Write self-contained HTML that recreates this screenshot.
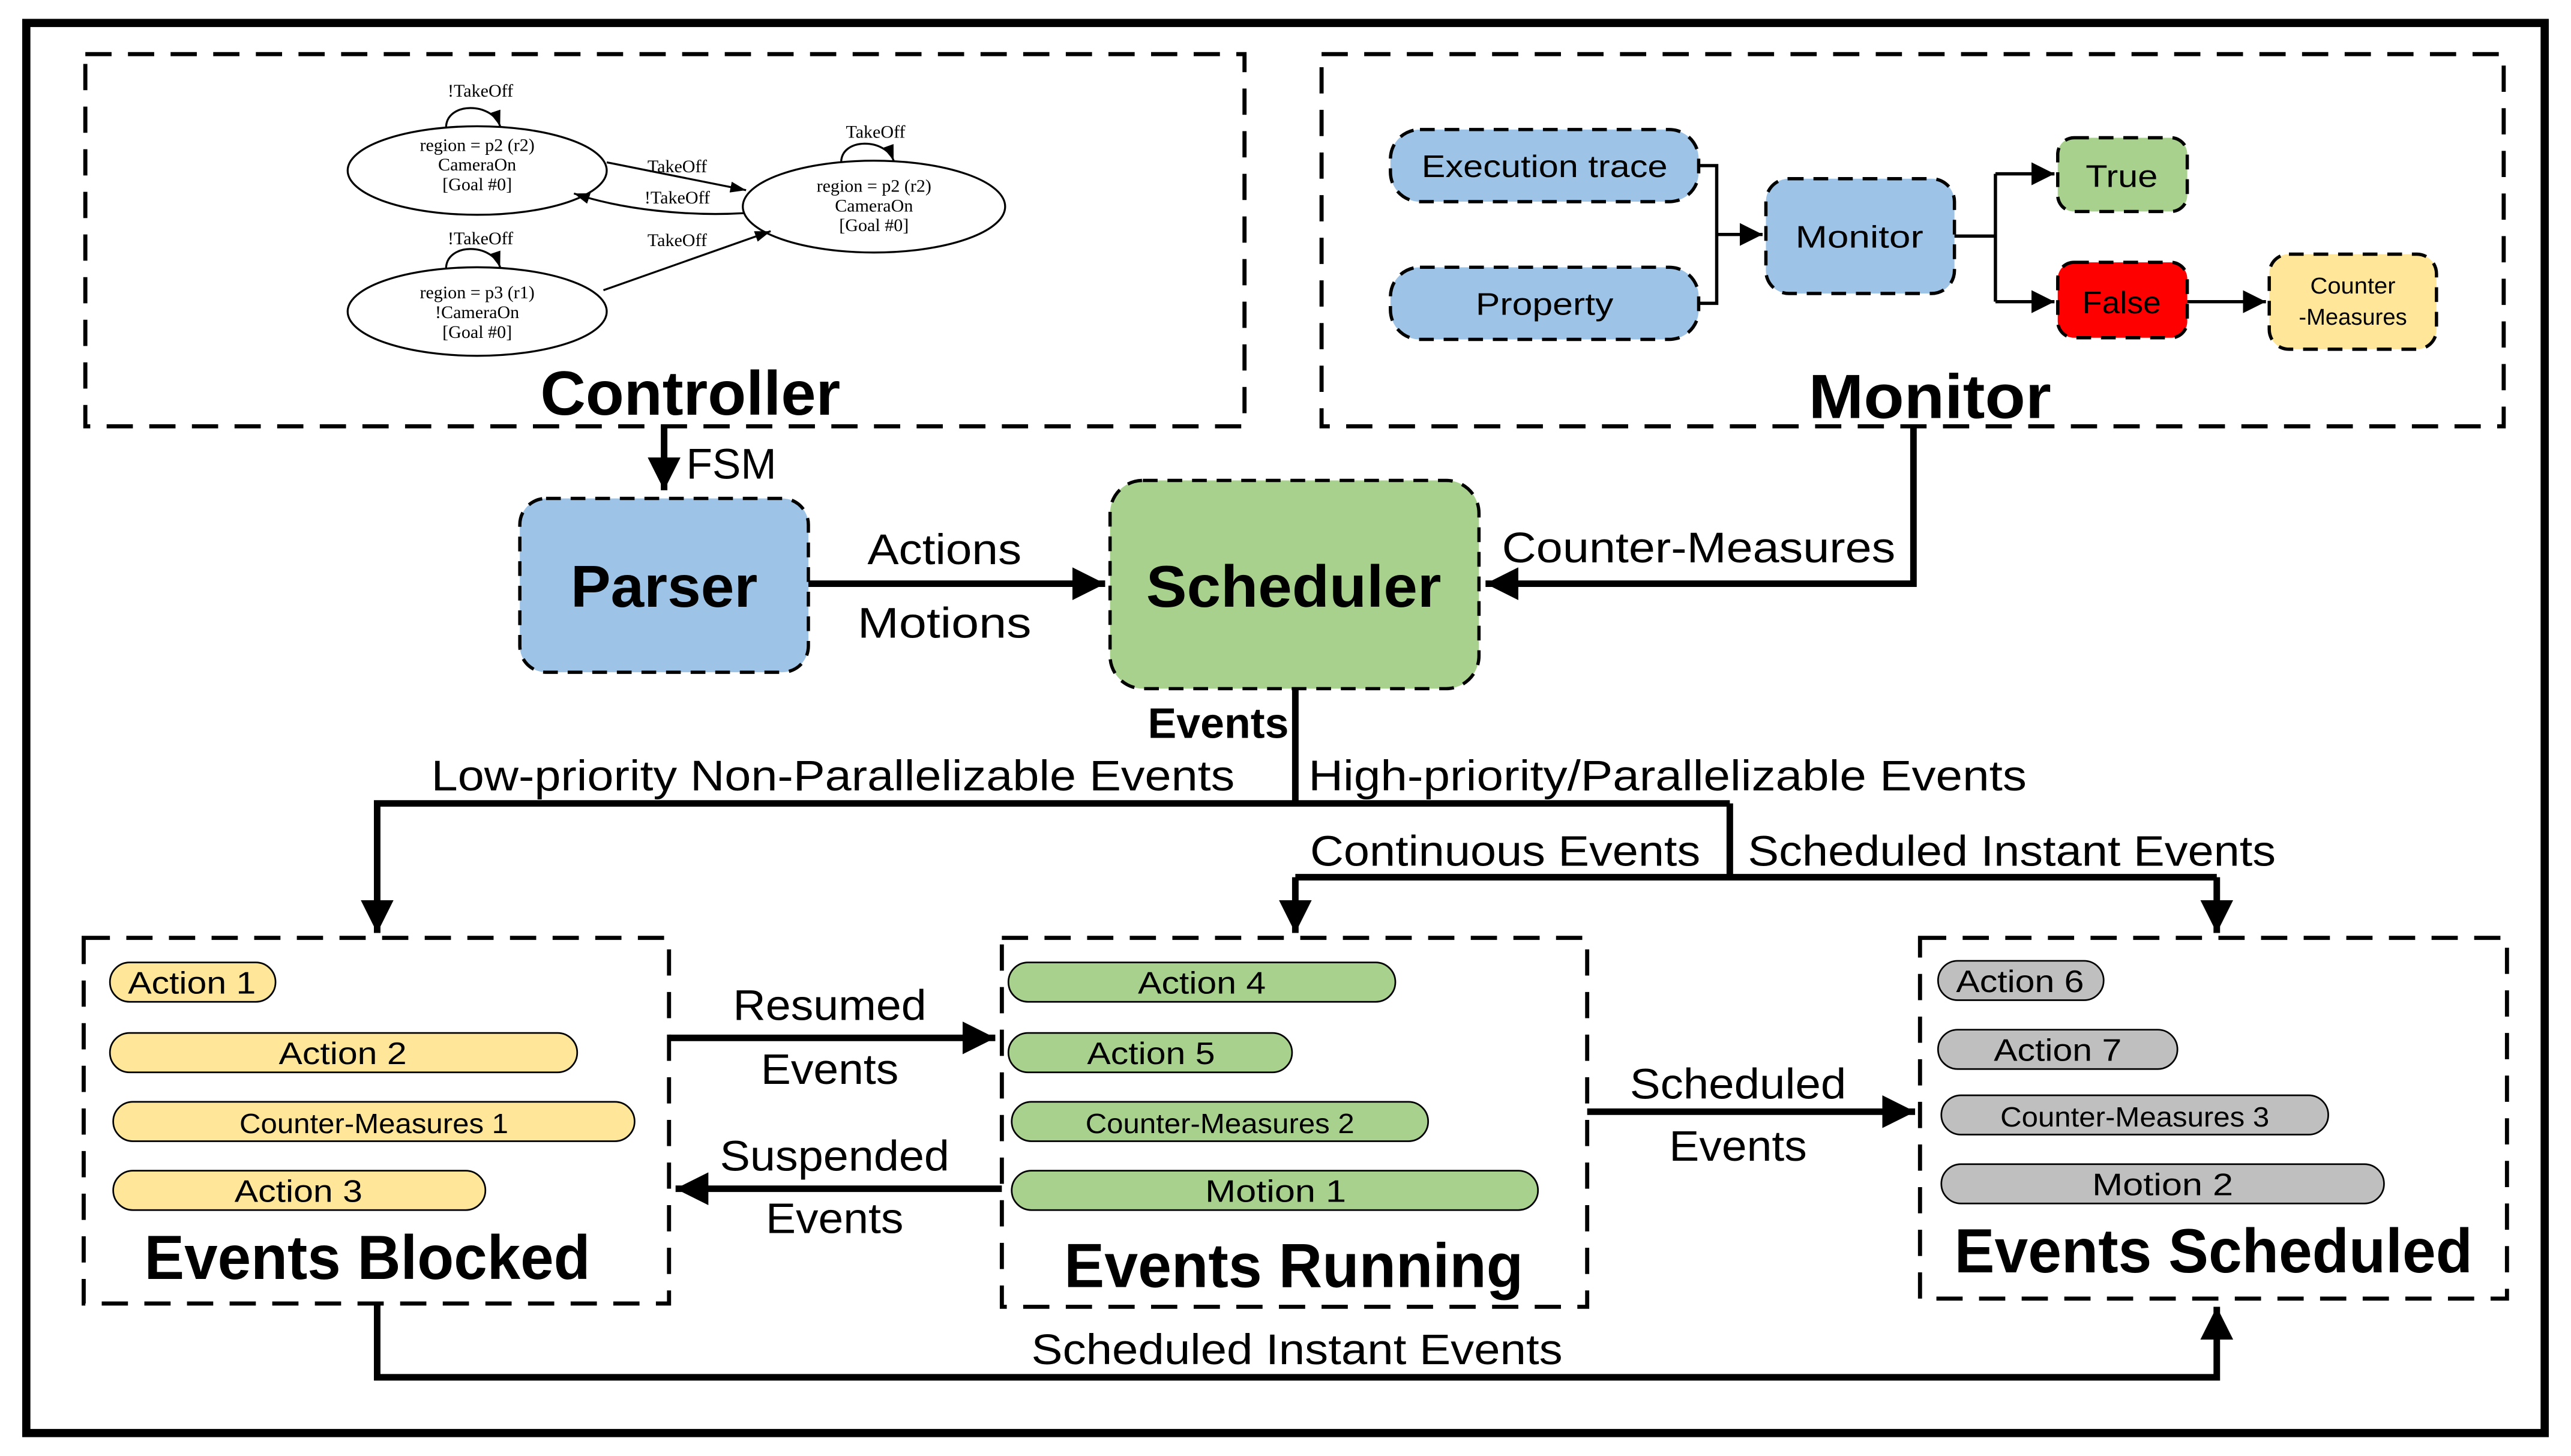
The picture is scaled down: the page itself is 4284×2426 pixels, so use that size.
<!DOCTYPE html>
<html><head><meta charset="utf-8"><style>html,body{margin:0;padding:0;background:#fff}svg{display:block}</style></head>
<body>
<svg width="4284" height="2426" viewBox="0 0 1568 888" xmlns="http://www.w3.org/2000/svg" font-family="Liberation Sans, sans-serif">
<defs>
<marker id="a" viewBox="0 0 10 10" refX="10" refY="5" markerWidth="5" markerHeight="5" orient="auto" markerUnits="strokeWidth"><path d="M0,0L10,5L0,10z" fill="#000"/></marker>
<marker id="s" viewBox="0 0 10 10" refX="10" refY="5" markerWidth="7" markerHeight="7" orient="auto" markerUnits="strokeWidth"><path d="M0,0L10,5L0,10z" fill="#000"/></marker>
<marker id="t" viewBox="0 0 10 10" refX="10" refY="5" markerWidth="8" markerHeight="8" orient="auto" markerUnits="strokeWidth"><path d="M0,1.5L10,5L0,8.5z" fill="#000"/></marker>
</defs>
<rect x="16" y="14" width="1536" height="860" fill="#fff" stroke="#000" stroke-width="5"/>
<g fill="none" stroke="#000" stroke-width="2.5" stroke-dasharray="16,10">
<rect x="52" y="33" width="707" height="227"/>
<rect x="806" y="33" width="721" height="227"/>
<rect x="51" y="572" width="357" height="223"/>
<rect x="611" y="572" width="357" height="225"/>
<rect x="1171" y="572" width="358" height="220"/>
</g>
<!-- FSM -->
<g fill="none" stroke="#000" stroke-width="1.2">
<ellipse cx="291" cy="104" rx="79" ry="27"/>
<ellipse cx="533" cy="126" rx="80" ry="28"/>
<ellipse cx="291" cy="190" rx="79" ry="27"/>
<path d="M272,78 C272,62 300,62 305,77" marker-end="url(#t)"/>
<path d="M513,99 C513,84 540,84 545,98" marker-end="url(#t)"/>
<path d="M272,164 C272,148 300,148 305,163" marker-end="url(#t)"/>
<path d="M370,99 L455,116" marker-end="url(#t)"/>
<path d="M454,130 C420,132 380,128 350,118" marker-end="url(#t)"/>
<path d="M368,177 L470,141" marker-end="url(#t)"/>
</g>
<g font-family="Liberation Serif, serif" font-size="11" text-anchor="middle" fill="#000">
<text x="293" y="59">!TakeOff</text>
<text x="534" y="84">TakeOff</text>
<text x="293" y="149">!TakeOff</text>
<text x="413" y="105">TakeOff</text>
<text x="413" y="124">!TakeOff</text>
<text x="413" y="150">TakeOff</text>
<text x="291" y="92">region = p2 (r2)</text><text x="291" y="104">CameraOn</text><text x="291" y="116">[Goal #0]</text>
<text x="533" y="117">region = p2 (r2)</text><text x="533" y="129">CameraOn</text><text x="533" y="141">[Goal #0]</text>
<text x="291" y="182">region = p3 (r1)</text><text x="291" y="194">!CameraOn</text><text x="291" y="206">[Goal #0]</text>
</g>
<!-- Monitor panel -->
<g stroke="#000" stroke-width="2" stroke-dasharray="9,6">
<rect x="848" y="79" width="188" height="44" rx="18" fill="#9dc3e6"/>
<rect x="848" y="163" width="188" height="44" rx="18" fill="#9dc3e6"/>
<rect x="1077" y="109" width="115" height="70" rx="14" fill="#9dc3e6"/>
<rect x="1255" y="84" width="79" height="45" rx="10" fill="#a9d18e"/>
<rect x="1255" y="160" width="79" height="46" rx="10" fill="#ff0000"/>
<rect x="1384" y="155" width="102" height="58" rx="12" fill="#ffe699"/>
</g>
<g fill="none" stroke="#000" stroke-width="2">
<path d="M1036,101H1047V185H1036"/>
<path d="M1047,143H1075" marker-end="url(#s)"/>
<path d="M1192,144H1217"/>
<path d="M1217,106V184"/>
<path d="M1217,106H1253" marker-end="url(#s)"/>
<path d="M1217,184H1253" marker-end="url(#s)"/>
<path d="M1334,184H1382" marker-end="url(#s)"/>
</g>
<g font-size="19" text-anchor="middle" fill="#000">
<text x="942" y="108" textLength="150" lengthAdjust="spacingAndGlyphs">Execution trace</text>
<text x="942" y="192" textLength="84" lengthAdjust="spacingAndGlyphs">Property</text>
<text x="1134" y="151" textLength="78" lengthAdjust="spacingAndGlyphs">Monitor</text>
<text x="1294" y="114" textLength="44" lengthAdjust="spacingAndGlyphs">True</text>
<text x="1294" y="191" textLength="48" lengthAdjust="spacingAndGlyphs">False</text>
<text x="1435" y="179" font-size="14" textLength="52" lengthAdjust="spacingAndGlyphs">Counter</text>
<text x="1435" y="198" font-size="14" textLength="66" lengthAdjust="spacingAndGlyphs">-Measures</text>
</g>
<g font-weight="bold" font-size="38" text-anchor="middle" fill="#000">
<text x="421" y="253" textLength="183" lengthAdjust="spacingAndGlyphs">Controller</text>
<text x="1177" y="255" textLength="148" lengthAdjust="spacingAndGlyphs">Monitor</text>
</g>
<!-- Parser / Scheduler -->
<rect x="317" y="304" width="176" height="106" rx="16" fill="#9dc3e6" stroke="#000" stroke-width="2" stroke-dasharray="9,6"/>
<rect x="677" y="293" width="225" height="127" rx="20" fill="#a9d18e" stroke="#000" stroke-width="2" stroke-dasharray="9,6"/>
<text x="405" y="370" font-size="36" font-weight="bold" text-anchor="middle" textLength="114" lengthAdjust="spacingAndGlyphs">Parser</text>
<text x="789" y="370" font-size="36" font-weight="bold" text-anchor="middle" textLength="180" lengthAdjust="spacingAndGlyphs">Scheduler</text>
<g fill="none" stroke="#000" stroke-width="4">
<path d="M405,260V299" marker-end="url(#a)"/>
<path d="M493,356H674" marker-end="url(#a)"/>
<path d="M1167,260V356H906" marker-end="url(#a)"/>
<path d="M790,420V490"/>
<path d="M1055,490H230V569" marker-end="url(#a)"/>
<path d="M1055,490V535"/>
<path d="M790,535H1352"/>
<path d="M790,535V569" marker-end="url(#a)"/>
<path d="M1352,535V569" marker-end="url(#a)"/>
<path d="M408,633H607" marker-end="url(#a)"/>
<path d="M611,725H412" marker-end="url(#a)"/>
<path d="M968,678H1168" marker-end="url(#a)"/>
<path d="M230,795V840H1352V797" marker-end="url(#a)"/>
</g>
<g font-size="26" text-anchor="middle" fill="#000">
<text x="446" y="292" textLength="55" lengthAdjust="spacingAndGlyphs">FSM</text>
<text x="576" y="344" textLength="94" lengthAdjust="spacingAndGlyphs">Actions</text>
<text x="576" y="389" textLength="106" lengthAdjust="spacingAndGlyphs">Motions</text>
<text x="1036" y="343" textLength="240" lengthAdjust="spacingAndGlyphs">Counter-Measures</text>
<text x="743" y="450" font-weight="bold" textLength="86" lengthAdjust="spacingAndGlyphs">Events</text>
<text x="508" y="482" textLength="490" lengthAdjust="spacingAndGlyphs">Low-priority Non-Parallelizable Events</text>
<text x="1017" y="482" textLength="438" lengthAdjust="spacingAndGlyphs">High-priority/Parallelizable Events</text>
<text x="918" y="528" textLength="238" lengthAdjust="spacingAndGlyphs">Continuous Events</text>
<text x="1227" y="528" textLength="322" lengthAdjust="spacingAndGlyphs">Scheduled Instant Events</text>
<text x="506" y="622" textLength="118" lengthAdjust="spacingAndGlyphs">Resumed</text>
<text x="506" y="661" textLength="84" lengthAdjust="spacingAndGlyphs">Events</text>
<text x="509" y="714" textLength="140" lengthAdjust="spacingAndGlyphs">Suspended</text>
<text x="509" y="752" textLength="84" lengthAdjust="spacingAndGlyphs">Events</text>
<text x="1060" y="670" textLength="132" lengthAdjust="spacingAndGlyphs">Scheduled</text>
<text x="1060" y="708" textLength="84" lengthAdjust="spacingAndGlyphs">Events</text>
<text x="791" y="832" textLength="324" lengthAdjust="spacingAndGlyphs">Scheduled Instant Events</text>
</g>
<!-- pills -->
<g stroke="#000" stroke-width="1">
<rect x="67" y="587" width="101" height="24" rx="12" fill="#ffe699"/>
<rect x="67" y="630" width="285" height="24" rx="12" fill="#ffe699"/>
<rect x="69" y="672" width="318" height="24" rx="12" fill="#ffe699"/>
<rect x="69" y="714" width="227" height="24" rx="12" fill="#ffe699"/>
<rect x="615" y="587" width="236" height="24" rx="12" fill="#a9d18e"/>
<rect x="615" y="630" width="173" height="24" rx="12" fill="#a9d18e"/>
<rect x="617" y="672" width="254" height="24" rx="12" fill="#a9d18e"/>
<rect x="617" y="714" width="321" height="24" rx="12" fill="#a9d18e"/>
<rect x="1182" y="586" width="101" height="24" rx="12" fill="#bfbfbf"/>
<rect x="1182" y="628" width="146" height="24" rx="12" fill="#bfbfbf"/>
<rect x="1184" y="668" width="236" height="24" rx="12" fill="#bfbfbf"/>
<rect x="1184" y="710" width="270" height="24" rx="12" fill="#bfbfbf"/>
</g>
<g font-size="19" text-anchor="middle" fill="#000">
<text x="117" y="606" textLength="78" lengthAdjust="spacingAndGlyphs">Action 1</text>
<text x="209" y="649" textLength="78" lengthAdjust="spacingAndGlyphs">Action 2</text>
<text x="228" y="691" font-size="17" textLength="164" lengthAdjust="spacingAndGlyphs">Counter-Measures 1</text>
<text x="182" y="733" textLength="78" lengthAdjust="spacingAndGlyphs">Action 3</text>
<text x="733" y="606" textLength="78" lengthAdjust="spacingAndGlyphs">Action 4</text>
<text x="702" y="649" textLength="78" lengthAdjust="spacingAndGlyphs">Action 5</text>
<text x="744" y="691" font-size="17" textLength="164" lengthAdjust="spacingAndGlyphs">Counter-Measures 2</text>
<text x="778" y="733" textLength="86" lengthAdjust="spacingAndGlyphs">Motion 1</text>
<text x="1232" y="605" textLength="78" lengthAdjust="spacingAndGlyphs">Action 6</text>
<text x="1255" y="647" textLength="78" lengthAdjust="spacingAndGlyphs">Action 7</text>
<text x="1302" y="687" font-size="17" textLength="164" lengthAdjust="spacingAndGlyphs">Counter-Measures 3</text>
<text x="1319" y="729" textLength="86" lengthAdjust="spacingAndGlyphs">Motion 2</text>
</g>
<g font-weight="bold" font-size="38" text-anchor="middle" fill="#000">
<text x="224" y="780" textLength="272" lengthAdjust="spacingAndGlyphs">Events Blocked</text>
<text x="789" y="785" textLength="280" lengthAdjust="spacingAndGlyphs">Events Running</text>
<text x="1350" y="776" textLength="316" lengthAdjust="spacingAndGlyphs">Events Scheduled</text>
</g>
</svg>
</body></html>
